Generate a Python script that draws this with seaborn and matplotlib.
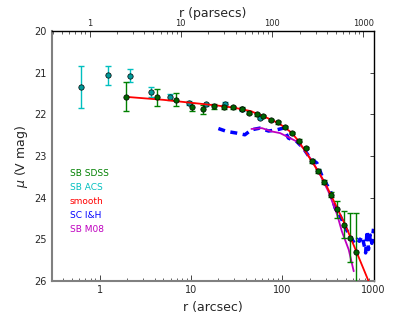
import numpy as np
import pandas as pd
import matplotlib
matplotlib.use("Agg")
import matplotlib.pyplot as plt
import seaborn as sns
from matplotlib.lines import Line2D
from matplotlib.ticker import FixedLocator, FixedFormatter, LogLocator, NullFormatter

# SB SDSS (green points)
sdss_r = [1.95, 4.27, 6.9, 10.2, 13.6, 18.0, 23, 29, 36, 43.7, 53, 62, 75.7, 91, 108, 128, 152, 180, 212, 249, 290, 343, 402, 472, 550, 646]
sdss_mu = [21.58, 21.59, 21.65, 21.82, 21.88, 21.81, 21.82, 21.83, 21.86, 21.96, 22.0, 22.04, 22.13, 22.19, 22.3, 22.45, 22.63, 22.81, 23.12, 23.37, 23.63, 23.93, 24.28, 24.65, 24.96, 25.31]
sdss_err = [0.35, 0.21, 0.16, 0.1, 0.1, 0.07, 0.05, 0.04, 0.04, 0.03, 0.03, 0.03, 0.03, 0.03, 0.03, 0.03, 0.03, 0.03, 0.04, 0.05, 0.05, 0.06, 0.2, 0.32, 0.58, 0.95]

# SB ACS (cyan points)
acs_r = [0.63, 1.23, 2.15, 3.63, 5.9, 9.5, 14.8, 23.4, 36.6, 57.6]
acs_mu = [21.34, 21.06, 21.07, 21.46, 21.58, 21.73, 21.76, 21.75, 21.88, 22.08]
acs_err = [0.5, 0.23, 0.15, 0.12, 0.08, 0.05, 0.04, 0.04, 0.03, 0.03]

# smooth profile (red)
smooth_r = [2, 5, 10, 20, 30, 45, 60, 80, 100, 125, 150, 200, 250, 300, 400, 500, 650, 880, 1000]
smooth_mu = [21.58, 21.65, 21.72, 21.79, 21.84, 21.92, 22.03, 22.15, 22.27, 22.43, 22.63, 23.05, 23.38, 23.68, 24.25, 24.7, 25.3, 26.0, 26.4]

# SC I&H (blue dashed)
ih_r = [20, 24.7, 31.8, 39, 46, 57, 71, 87.6, 103, 117, 144, 170, 202, 240, 283, 335, 380, 433, 500, 560, 620, 660, 700, 750, 800, 820, 850, 880, 920, 960, 1000]
ih_mu = [22.34, 22.41, 22.45, 22.49, 22.37, 22.33, 22.4, 22.37, 22.33, 22.57, 22.65, 22.81, 23.05, 23.17, 23.57, 23.81, 24.25, 24.45, 24.75, 24.95, 25.1, 25.0, 25.05, 24.93, 25.2, 25.33, 24.8, 25.25, 24.9, 25.1, 24.75]

# SB M08 (magenta)
m08_r = [46, 60, 77, 95, 117, 144, 170, 210, 260, 320, 400, 450, 535, 607]
m08_mu = [22.35, 22.33, 22.41, 22.45, 22.55, 22.65, 22.81, 23.1, 23.45, 23.85, 24.41, 24.81, 25.25, 25.77]

labels = ["SB SDSS", "SB ACS", "smooth", "SC I&H", "SB M08"]
colors = ["green", "c", "red", "blue", "m"]

pc_per_arcsec = 1.29

sns.set_style("ticks")
plt.rcParams["font.family"] = ["DejaVu Sans"]

fig = plt.figure(figsize=(4.15, 3.12), dpi=100)
ax = fig.add_axes([0.125, 0.1, 0.775, 0.8])

smooth = pd.DataFrame({"r": smooth_r, "mu": smooth_mu})
ih = pd.DataFrame({"r": ih_r, "mu": ih_mu})
m08 = pd.DataFrame({"r": m08_r, "mu": m08_mu})

sns.lineplot(data=ih, x="r", y="mu", ax=ax, color="blue", lw=2.5, sort=False,
             linestyle=(0, (2, 1.6)), zorder=2)
sns.lineplot(data=m08, x="r", y="mu", ax=ax, color="m", lw=1.3, sort=False, zorder=2)

ax.errorbar(acs_r, acs_mu, yerr=acs_err, fmt="none", ecolor="c", elinewidth=1,
            capsize=2.5, capthick=1, zorder=3)
sns.scatterplot(x=acs_r, y=acs_mu, ax=ax, color="#009999", edgecolor="black",
                linewidth=0.5, s=15, zorder=4)

ax.errorbar(sdss_r, sdss_mu, yerr=sdss_err, fmt="none", ecolor="green", elinewidth=1,
            capsize=2.5, capthick=1, zorder=3)
sns.lineplot(data=smooth, x="r", y="mu", ax=ax, color="red", lw=1.3, sort=False, zorder=5)
sns.scatterplot(x=sdss_r, y=sdss_mu, ax=ax, color="darkgreen", edgecolor="black",
                linewidth=0.5, s=15, zorder=6)

ax.set_xscale("log")
ax.set_xlim(0.3, 1000)
ax.set_ylim(26, 20)
ax.set_yticks([20, 21, 22, 23, 24, 25, 26])
ax.xaxis.set_major_locator(FixedLocator([1, 10, 100, 1000]))
ax.xaxis.set_major_formatter(FixedFormatter(["1", "10", "100", "1000"]))
ax.xaxis.set_minor_locator(LogLocator(base=10, subs=np.arange(2, 10)))
ax.xaxis.set_minor_formatter(NullFormatter())
ax.tick_params(axis="x", which="major", direction="in", length=4, width=0.6, labelsize=7, pad=3)
ax.tick_params(axis="x", which="minor", direction="in", length=2, width=0.5)
ax.tick_params(axis="y", direction="in", length=3, width=0.6, labelsize=7,
               left=False, right=True)
ax.set_xlabel("r (arcsec)", fontsize=9)
ax.set_ylabel(r"$\mu$ (V mag)", fontsize=9, labelpad=3)

for side in ["left", "bottom"]:
    ax.spines[side].set_color("gray")
    ax.spines[side].set_linewidth(1.5)
for side in ["top", "right"]:
    ax.spines[side].set_color("black")
    ax.spines[side].set_linewidth(1.0)

top = ax.secondary_xaxis("top", functions=(lambda x: x * pc_per_arcsec,
                                           lambda x: x / pc_per_arcsec))
top.xaxis.set_major_locator(FixedLocator([1, 10, 100, 1000]))
top.xaxis.set_major_formatter(FixedFormatter(["1", "10", "100", "1000"]))
top.xaxis.set_minor_locator(LogLocator(base=10, subs=np.arange(2, 10)))
top.xaxis.set_minor_formatter(NullFormatter())
top.tick_params(axis="x", which="major", direction="in", length=4, width=0.6, labelsize=6, pad=2)
top.tick_params(axis="x", which="minor", direction="in", length=2, width=0.5)
top.set_xlabel("r (parsecs)", fontsize=9, labelpad=2)
top.spines["top"].set_visible(False)

handles = [Line2D([], [], color=c, lw=0) for c in colors]
ax.legend(handles, labels, loc="upper left", bbox_to_anchor=(0.03, 0.48),
          handlelength=0, handletextpad=0, frameon=False, fontsize=6.5,
          labelcolor=colors, labelspacing=0.55)

fig.savefig("out.png", dpi=100)
